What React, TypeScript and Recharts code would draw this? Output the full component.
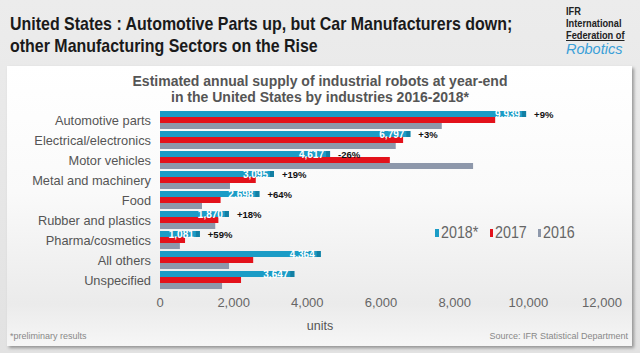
import React from 'react';
import { BarChart, Bar, XAxis, YAxis, LabelList } from 'recharts';

const industries = [
  'Automotive parts',
  'Electrical/electronics',
  'Motor vehicles',
  'Metal and machinery',
  'Food',
  'Rubber and plastics',
  'Pharma/cosmetics',
  'All others',
  'Unspecified'
];
const supply2018 = [9939, 6797, 4617, 3095, 2698, 1870, 1081, 4364, 3647];
const supply2017 = [9100, 6600, 6240, 2600, 1645, 1585, 680, 2530, 2200];
const supply2016 = [7650, 6400, 8500, 1900, 1140, 1500, 540, 1875, 1685];
const changes = ['+9%', '+3%', '-26%', '+19%', '+64%', '+18%', '+59%', '', ''];
const xTicks = [0, 2000, 4000, 6000, 8000, 10000, 12000];
const seriesNames = ['2018*', '2017', '2016'];

const data = industries.map((name, i) => ({
  name,
  y2018: supply2018[i],
  y2017: supply2017[i],
  y2016: supply2016[i]
}));

const CYAN = '#1b9cc6';
const RED = '#e3121b';
const GREY = '#8e98ab';
const SANS = "'Liberation Sans', Arial, sans-serif";
const seriesColors = [CYAN, RED, GREY];

// no narrow font installed, so squeeze regular Arial-like text
const narrow = (k = 0.84): React.CSSProperties => ({
  display: 'inline-block',
  transform: `scaleX(${k})`,
  transformOrigin: 'left center',
  whiteSpace: 'nowrap'
});

const CategoryTick: React.FC<any> = ({ x, y, payload }) => (
  <text x={x - 1} y={y} textAnchor="end" dy={4.5} fill="#555" fontSize={12.8} fontFamily={SANS}>
    {payload.value}
  </text>
);

const ValueLabel: React.FC<any> = ({ x, y, width, height, value, index }) => {
  const end = x + width;
  const cy = y + height / 2;
  return (
    <g>
      <rect x={end - 4} y={y} width={4} height={height} fill="#137fa3" />
      <text
        x={end - 6}
        y={cy}
        dy={3.5}
        textAnchor="end"
        fill="#fff"
        fontSize={10}
        fontWeight="bold"
        fontFamily={SANS}>
        {value.toLocaleString('en-US')}
      </text>
      {changes[index] && (
        <text
          x={end + 8}
          y={cy}
          dy={3.5}
          fill="#111"
          fontSize={9.5}
          fontWeight="bold"
          fontFamily={SANS}>
          {changes[index]}
        </text>
      )}
    </g>
  );
};

export default function App() {
  return (
    <div
      style={{
        position: 'fixed',
        left: 0,
        top: 0,
        width: 640,
        height: 353,
        overflow: 'hidden',
        background: 'linear-gradient(180deg, #ececec 0%, #e2e2e2 100%)',
        fontFamily: SANS
      }}>
      <div
        style={{
          position: 'absolute',
          left: 10,
          top: 13,
          fontWeight: 'bold',
          fontSize: 19,
          lineHeight: '22px',
          color: '#1a1a1a'
        }}>
        <div style={narrow(0.84)}>United States : Automotive Parts up, but Car Manufacturers down;</div>
        <br />
        <div style={{ ...narrow(0.84), marginTop: -22 }}>other Manufacturing Sectors on the Rise</div>
      </div>
      <div
        style={{
          position: 'absolute',
          left: 566,
          top: 5,
          fontWeight: 'bold',
          fontSize: 10.5,
          lineHeight: '12px',
          color: '#222'
        }}>
        <div style={narrow(0.88)}>IFR</div>
        <br />
        <div style={{ ...narrow(0.88), marginTop: -12 }}>International</div>
        <br />
        <div style={{ ...narrow(0.88), marginTop: -12, textDecoration: 'underline' }}>Federation of</div>
        <div
          style={{
            color: '#3aa0d8',
            fontStyle: 'italic',
            fontWeight: 'normal',
            fontSize: 14.5,
            lineHeight: '16px'
          }}>
          Robotics
        </div>
      </div>
      <div
        style={{
          position: 'absolute',
          left: 7,
          top: 66,
          width: 625,
          height: 280,
          background: 'linear-gradient(180deg, #ffffff 0%, #fafafa 45%, #ebebeb 85%, #f6f6f6 100%)',
          boxShadow: '2px 2px 3px rgba(0,0,0,0.35)'
        }}
      />
      <div
        style={{
          position: 'absolute',
          left: 0,
          top: 73,
          width: 640,
          textAlign: 'center',
          fontWeight: 'bold',
          fontSize: 14,
          lineHeight: '16px',
          color: '#555'
        }}>
        Estimated annual supply of industrial robots at year-end
        <br />
        in the United States by industries 2016-2018*
      </div>
      <div style={{ position: 'absolute', left: 0, top: 0 }}>
        <BarChart
          width={640}
          height={353}
          data={data}
          layout="vertical"
          margin={{ top: 110, right: 38, bottom: 33, left: 0 }}
          barGap={0}
          barSize={6}>
          <XAxis
            type="number"
            domain={[0, 12000]}
            ticks={xTicks}
            tickFormatter={(v) => v.toLocaleString('en-US')}
            axisLine={false}
            tickLine={false}
            tick={{ fill: '#666', fontSize: 13, fontFamily: SANS }}
          />
          <YAxis
            type="category"
            dataKey="name"
            width={160}
            interval={0}
            axisLine={false}
            tickLine={false}
            tick={<CategoryTick />}
          />
          <Bar dataKey="y2018" fill={CYAN} isAnimationActive={false}>
            <LabelList dataKey="y2018" content={<ValueLabel />} />
          </Bar>
          <Bar dataKey="y2017" fill={RED} isAnimationActive={false} />
          <Bar dataKey="y2016" fill={GREY} isAnimationActive={false} />
        </BarChart>
      </div>
      <div
        style={{
          position: 'absolute',
          left: 435,
          top: 223,
          display: 'flex',
          gap: 5,
          fontSize: 17,
          color: '#666'
        }}>
        {seriesNames.map((label, i) => (
          <span key={label} style={{ display: 'flex', alignItems: 'center', width: label.length > 4 ? 50 : 43 }}>
            <span
              style={{ width: 6, height: 8, background: seriesColors[i], marginRight: 2, display: 'inline-block' }}
            />
            <span style={narrow(0.84)}>{label}</span>
          </span>
        ))}
      </div>
      <div
        style={{
          position: 'absolute',
          left: 0,
          width: 640,
          top: 319,
          textAlign: 'center',
          fontSize: 12.5,
          color: '#555'
        }}>
        units
      </div>
      <div style={{ position: 'absolute', left: 10, top: 331, fontSize: 9, color: '#888' }}>*preliminary results</div>
      <div style={{ position: 'absolute', right: 12, top: 331, fontSize: 9, color: '#888' }}>
        Source: IFR Statistical Department
      </div>
    </div>
  );
}
